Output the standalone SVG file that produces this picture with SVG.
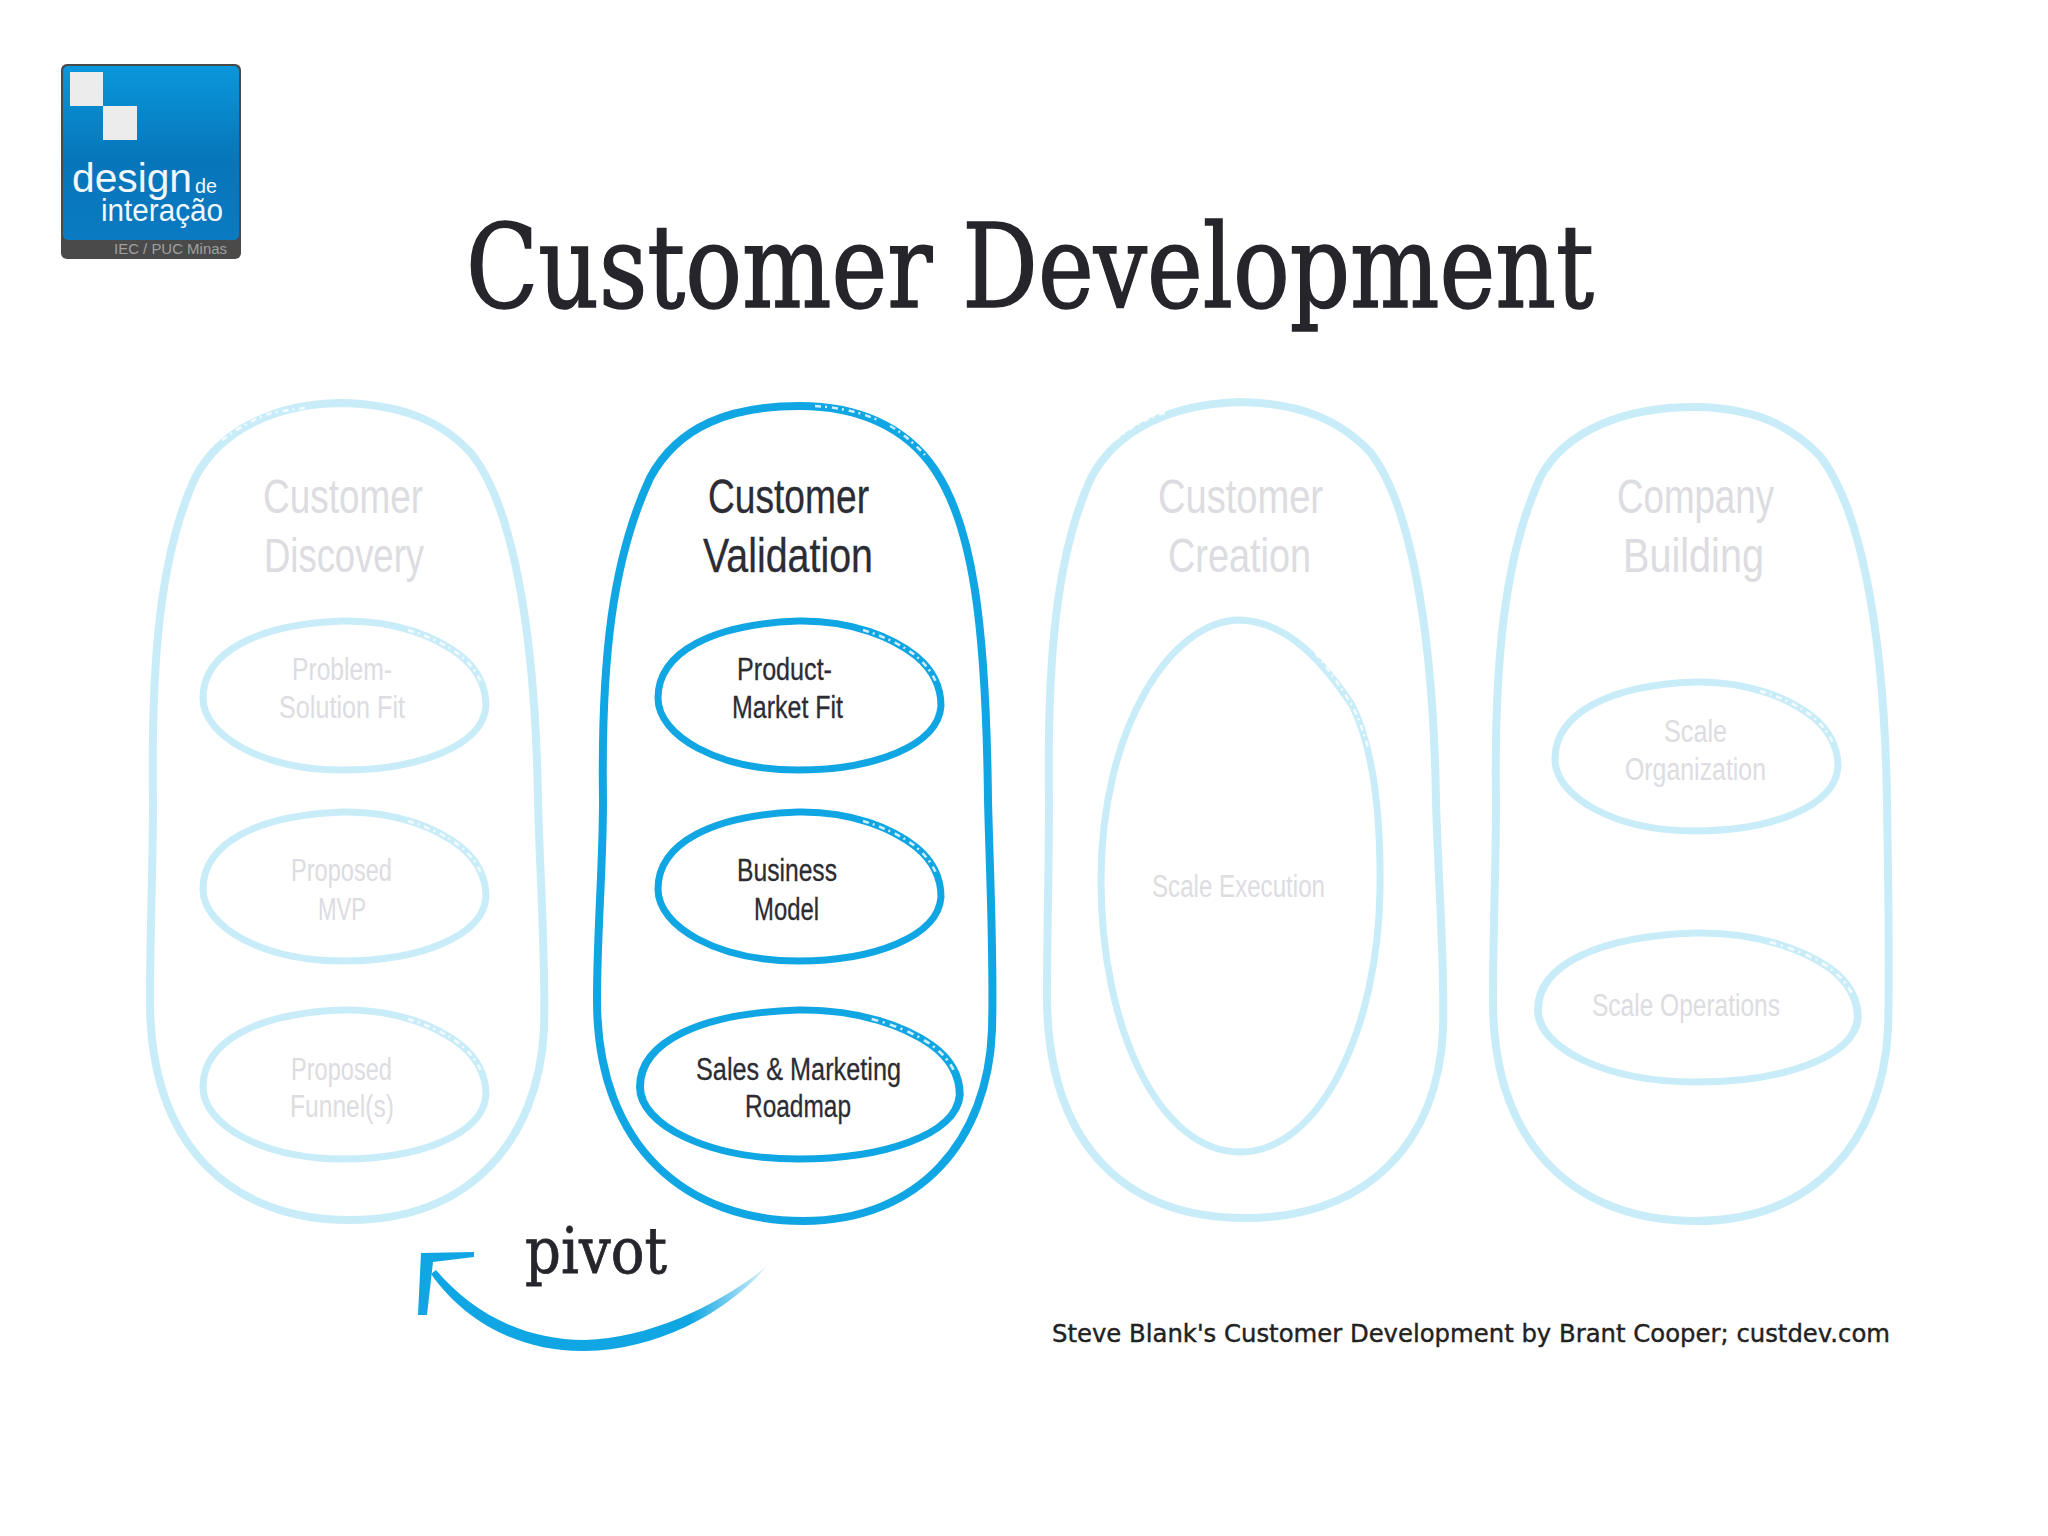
<svg xmlns="http://www.w3.org/2000/svg" width="2048" height="1536" viewBox="0 0 2048 1536">
<style>
text{font-family:"Liberation Sans Narrow","Liberation Sans",Arial,sans-serif}
.h{font-size:49px}.s{font-size:31px}
.dim{fill:#dcdce1}.on{fill:#2c2c34;stroke:#2c2c34;stroke-width:.3}
.c,.e{fill:none;stroke-linejoin:round}
.c{stroke-width:8}.e{stroke-width:7;vector-effect:non-scaling-stroke}
.lt{stroke:#c9ecf9}.st{stroke:#10a6e4}
.logo{font-family:"Liberation Sans",Arial,sans-serif;fill:#f2f7fa}
.fray{fill:none;stroke:#fff;stroke-width:2.5;stroke-dasharray:6 4 2 5;opacity:.8}
.ef{vector-effect:non-scaling-stroke}
.slab{font-family:"DejaVu Serif","Liberation Serif",serif;fill:#25252b;stroke:#25252b}
</style>
<defs>
<linearGradient id="blue" x1="0" y1="0" x2="0" y2="1"><stop offset="0" stop-color="#0a97dc"/><stop offset=".55" stop-color="#0775b9"/><stop offset="1" stop-color="#0a7ac2"/></linearGradient>
<linearGradient id="fade" gradientUnits="userSpaceOnUse" x1="767" y1="0" x2="690" y2="0"><stop offset="0" stop-color="#10a6e4" stop-opacity=".15"/><stop offset="1" stop-color="#10a6e4"/></linearGradient>
<path id="egg" d="M0,78C0,32 55,4 140,1C195,0 235,18 258,36C275,50 283,66 283,86C280,126 215,150 140,150C60,150 0,116 0,78Z"/>
<path id="eggfray" d="M205,10Q238,20 258,36Q272,48 278,62"/>
</defs>
<rect width="2048" height="1536" fill="#fff"/>

<g id="logo">
<rect x="61" y="64" width="180" height="195" rx="6" fill="#4a4a4a"/>
<rect x="63" y="66" width="176" height="174" rx="5" fill="url(#blue)"/>
<rect x="70" y="72" width="33" height="34" fill="#ececec"/>
<rect x="103" y="106" width="34" height="34" fill="#ececec"/>
<text class="logo" x="72" y="192" font-size="40" textLength="120" lengthAdjust="spacingAndGlyphs">design</text>
<text class="logo" x="195" y="193" font-size="20" textLength="22" lengthAdjust="spacingAndGlyphs">de</text>
<text class="logo" x="101" y="221" font-size="31" textLength="122" lengthAdjust="spacingAndGlyphs">interação</text>
<text x="114" y="254" font-size="15" fill="#a0a0a0" style="font-family:'Liberation Sans',Arial,sans-serif" textLength="113" lengthAdjust="spacingAndGlyphs">IEC / PUC Minas</text>
</g>

<g id="title"><text class="slab" x="466" y="307" font-size="116" stroke-width="1.6" textLength="1128" lengthAdjust="spacingAndGlyphs">Customer Development</text></g>

<g id="customer-discovery">
<path class="c lt" d="M153,800C151,660 160,555 195,478C220,430 275,404 340,403C400,404 440,420 470,452C510,500 535,620 538,800C540,880 546,960 544,1030C538,1140 470,1220 350,1220C235,1220 150,1150 150,1000C150,930 153,870 153,800Z"/>
<path class="fray" d="M222,440Q250,420 268,414Q285,410 305,408"/>
<text class="h dim" x="263" y="513" textLength="160" lengthAdjust="spacingAndGlyphs">Customer</text>
<text class="h dim" x="264" y="572" textLength="160" lengthAdjust="spacingAndGlyphs">Discovery</text>
<use href="#egg" class="e lt" transform="translate(203 620)"/><use href="#eggfray" class="fray ef" transform="translate(203 620)"/>
<text class="s dim" x="292" y="680" textLength="100" lengthAdjust="spacingAndGlyphs">Problem-</text>
<text class="s dim" x="279" y="718" textLength="126" lengthAdjust="spacingAndGlyphs">Solution Fit</text>
<use href="#egg" class="e lt" transform="translate(203 811)"/><use href="#eggfray" class="fray ef" transform="translate(203 811)"/>
<text class="s dim" x="291" y="881" textLength="101" lengthAdjust="spacingAndGlyphs">Proposed</text>
<text class="s dim" x="318" y="920" textLength="48" lengthAdjust="spacingAndGlyphs">MVP</text>
<use href="#egg" class="e lt" transform="translate(203 1009)"/><use href="#eggfray" class="fray ef" transform="translate(203 1009)"/>
<text class="s dim" x="291" y="1080" textLength="101" lengthAdjust="spacingAndGlyphs">Proposed</text>
<text class="s dim" x="290" y="1117" textLength="104" lengthAdjust="spacingAndGlyphs">Funnel(s)</text>
</g>

<g id="customer-validation">
<path class="c st" d="M603,800C601,660 612,560 650,478C678,426 730,406 800,406C855,406 905,425 935,470C972,525 986,620 988,800C990,880 994,960 992,1030C988,1140 920,1221 803,1221C690,1221 597,1150 597,1000C597,930 603,870 603,800Z"/>
<path class="fray" d="M815,406Q850,408 878,420M890,426Q905,434 925,455"/>
<text class="h on" x="708" y="513" textLength="161" lengthAdjust="spacingAndGlyphs">Customer</text>
<text class="h on" x="703" y="572" textLength="170" lengthAdjust="spacingAndGlyphs">Validation</text>
<use href="#egg" class="e st" transform="translate(658 620)"/><use href="#eggfray" class="fray ef" transform="translate(658 620)"/>
<text class="s on" x="737" y="680" textLength="95" lengthAdjust="spacingAndGlyphs">Product-</text>
<text class="s on" x="732" y="718" textLength="111" lengthAdjust="spacingAndGlyphs">Market Fit</text>
<use href="#egg" class="e st" transform="translate(658 811)"/><use href="#eggfray" class="fray ef" transform="translate(658 811)"/>
<text class="s on" x="737" y="881" textLength="100" lengthAdjust="spacingAndGlyphs">Business</text>
<text class="s on" x="754" y="920" textLength="65" lengthAdjust="spacingAndGlyphs">Model</text>
<use href="#egg" class="e st" transform="translate(640 1009) scale(1.13 1)"/><use href="#eggfray" class="fray ef" transform="translate(640 1009) scale(1.13 1)"/>
<text class="s on" x="696" y="1080" textLength="205" lengthAdjust="spacingAndGlyphs">Sales &amp; Marketing</text>
<text class="s on" x="745" y="1117" textLength="106" lengthAdjust="spacingAndGlyphs">Roadmap</text>
</g>

<g id="customer-creation">
<path class="c lt" d="M1049,800C1047,660 1056,555 1091,478C1116,430 1171,404 1240,402C1300,403 1340,420 1370,452C1408,500 1433,620 1436,800C1438,880 1445,960 1443,1030C1438,1140 1370,1218 1245,1218C1130,1218 1049,1150 1047,1000C1047,930 1049,870 1049,800Z"/>
<path class="fray" d="M1115,440Q1140,420 1165,413"/>
<text class="h dim" x="1158" y="513" textLength="165" lengthAdjust="spacingAndGlyphs">Customer</text>
<text class="h dim" x="1168" y="572" textLength="143" lengthAdjust="spacingAndGlyphs">Creation</text>
<path class="e lt" d="M1101,880C1101,730 1170,620 1240,620C1290,622 1325,665 1352,705C1372,745 1381,810 1380,890C1378,1030 1320,1152 1240,1152C1160,1152 1101,1030 1101,880Z"/>
<path class="fray" d="M1305,640Q1330,670 1352,705Q1362,725 1368,748"/>
<text class="s dim" x="1152" y="897" textLength="173" lengthAdjust="spacingAndGlyphs">Scale Execution</text>
</g>

<g id="company-building">
<path class="c lt" d="M1496,800C1494,660 1505,555 1540,478C1565,430 1625,407 1695,407C1755,408 1790,425 1820,456C1858,505 1884,620 1887,800C1888,880 1890,960 1888,1030C1882,1140 1815,1221 1695,1221C1580,1221 1493,1150 1493,1000C1493,930 1496,870 1496,800Z"/>
<text class="h dim" x="1617" y="513" textLength="157" lengthAdjust="spacingAndGlyphs">Company</text>
<text class="h dim" x="1623" y="572" textLength="141" lengthAdjust="spacingAndGlyphs">Building</text>
<use href="#egg" class="e lt" transform="translate(1555 681)"/><use href="#eggfray" class="fray ef" transform="translate(1555 681)"/>
<text class="s dim" x="1664" y="742" textLength="63" lengthAdjust="spacingAndGlyphs">Scale</text>
<text class="s dim" x="1625" y="780" textLength="141" lengthAdjust="spacingAndGlyphs">Organization</text>
<use href="#egg" class="e lt" transform="translate(1538 932) scale(1.13 1)"/><use href="#eggfray" class="fray ef" transform="translate(1538 932) scale(1.13 1)"/>
<text class="s dim" x="1592" y="1016" textLength="188" lengthAdjust="spacingAndGlyphs">Scale Operations</text>
</g>

<g id="connectors">
<path id="pivot-shaft" fill="url(#fade)" d="M767,1266C720,1305 650,1338 585,1340C520,1340 470,1310 436,1270L431,1274C465,1322 520,1352 585,1351C655,1350 725,1315 767,1266Z"/>
<path id="pivot-head" fill="#10a6e4" d="M474,1252L421,1253L418,1315L427,1315L433,1262L474,1257Z"/>
</g>

<g id="pivot-label"><text class="slab" x="525" y="1273" font-size="64" stroke-width=".8" textLength="142" lengthAdjust="spacingAndGlyphs">pivot</text></g>

<g id="credit"><text x="1052" y="1342" font-size="24" fill="#222" stroke="#222" stroke-width=".4" style="font-family:'DejaVu Sans','Liberation Sans',sans-serif" textLength="838" lengthAdjust="spacingAndGlyphs">Steve Blank's Customer Development by Brant Cooper; custdev.com</text></g>
</svg>
